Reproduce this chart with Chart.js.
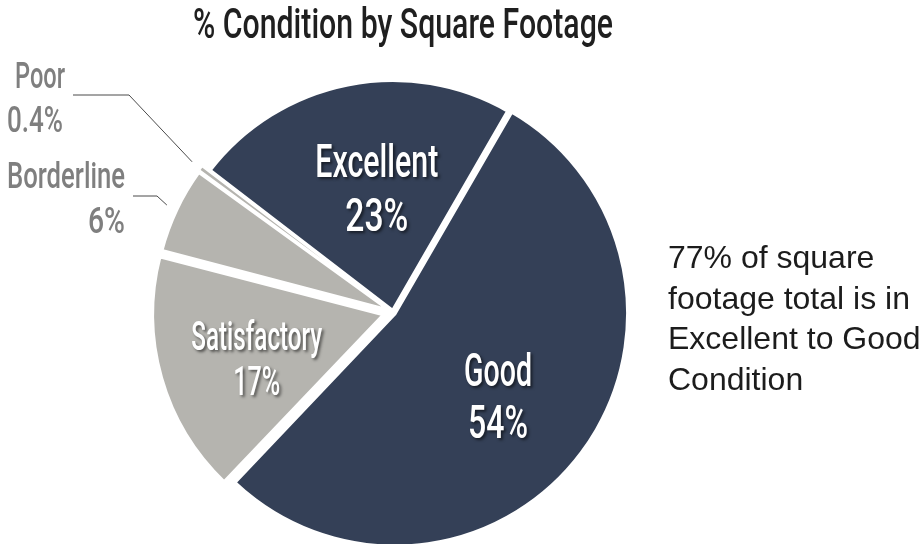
<!DOCTYPE html>
<html>
<head>
<meta charset="utf-8">
<script src="https://cdn.jsdelivr.net/npm/chart.js@4.4.1/dist/chart.umd.min.js"></script>
<style>
  html, body { margin: 0; padding: 0; background: #ffffff; }
  canvas { display: block; }
</style>
</head>
<body>
<canvas id="pie" width="920" height="544"></canvas>
<script>
// ---- data ----
const categories = ['Excellent', 'Good', 'Satisfactory', 'Borderline', 'Poor'];
const shares = [23, 54, 17, 6, 0.4];
const titleText = '% Condition by Square Footage';
const noteLines = ['77% of square', 'footage total is in', 'Excellent to Good', 'Condition'];

// ---- styling ----
const NAVY = '#344057';
const STONE = '#b5b4af';
const FAMILY = '"Liberation Sans", Arial, sans-serif';
const LABEL_FAMILY = 'Roboto, "Liberation Sans", sans-serif';
const LABEL_WEIGHT = '500';

const pct = v => v + '%';

// Draws one line squeezed horizontally so it spans `width` pixels (condensed look).
function squeezed(ctx, text, x, y, size, width, align, weight, family) {
  ctx.font = `${weight} ${size}px ${family || LABEL_FAMILY}`;
  const natural = ctx.measureText(text).width;
  const sx = width / natural;
  ctx.save();
  ctx.translate(x, y);
  ctx.scale(sx, 1);
  ctx.textAlign = align;
  ctx.textBaseline = 'alphabetic';
  ctx.fillText(text, 0, 0);
  ctx.restore();
}

// Same translation ArcElement applies for its offset option.
function arcShift(arc) {
  const o = (arc.options.offset || 0) / 4;
  const fix = 1 - Math.sin(Math.min(Math.PI, arc.circumference || 0));
  return o + o * fix;
}

function arcGeometry(arc) {
  const p = arc.getProps(['x', 'y', 'startAngle', 'endAngle', 'outerRadius', 'circumference'], true);
  const mid = (p.startAngle + p.endAngle) / 2;
  const shift = arcShift({ options: arc.options, circumference: p.circumference });
  return {
    cx: p.x + Math.cos(mid) * shift,
    cy: p.y + Math.sin(mid) * shift,
    mid,
    r: p.outerRadius
  };
}

// in-slice label layout: radial fraction, angular nudge (deg), cap height, line gap, line widths
const innerLayout = {
  0: { frac: 0.54, nudge: 3.9,  size: 47, cap: 34, gap: 54, w: [123, 63] },
  1: { frac: 0.56, nudge: 1.6,  size: 46, cap: 33, gap: 52, w: [68, 60] },
  2: { frac: 0.58, nudge: -3.3, size: 40, cap: 28, gap: 45, w: [131, 47] }
};

// outside labels with elbow leader lines
const outerLayout = {
  4: { lines: [{ x: 40, y: 88, w: 50, align: 'center' }, { x: 35, y: 132, w: 56, align: 'center' }],
       leader: [[73, 95], [129, 95]] },
  3: { lines: [{ x: 125, y: 188, w: 118, align: 'right' }, { x: 125, y: 233, w: 37, align: 'right' }],
       leader: [[133, 196], [157, 196]] }
};

const annotate = {
  id: 'annotate',
  afterDatasetsDraw(chart) {
    const ctx = chart.ctx;
    const arcs = chart.getDatasetMeta(0).data;

    // in-slice labels
    Object.keys(innerLayout).forEach(k => {
      const i = +k, L = innerLayout[k];
      const g = arcGeometry(arcs[i]);
      const a = g.mid + L.nudge * Math.PI / 180;
      const cx = g.cx + Math.cos(a) * g.r * L.frac;
      const cy = g.cy + Math.sin(a) * g.r * L.frac;
      ctx.save();
      ctx.fillStyle = '#ffffff';
      ctx.shadowColor = 'rgba(0,0,0,0.55)';
      ctx.shadowBlur = 3;
      ctx.shadowOffsetX = 2;
      ctx.shadowOffsetY = 2;
      squeezed(ctx, categories[i], cx, cy - L.gap / 2 + L.cap / 2, L.size, L.w[0], 'center', LABEL_WEIGHT);
      squeezed(ctx, pct(shares[i]), cx, cy + L.gap / 2 + L.cap / 2, L.size, L.w[1], 'center', LABEL_WEIGHT);
      ctx.restore();
    });

    // outside labels + leaders
    Object.keys(outerLayout).forEach(k => {
      const i = +k, L = outerLayout[k];
      const g = arcGeometry(arcs[i]);
      const ex = g.cx + Math.cos(g.mid) * (g.r + 11);
      const ey = g.cy + Math.sin(g.mid) * (g.r + 11);
      ctx.save();
      ctx.strokeStyle = '#4a4a4a';
      ctx.lineWidth = 1;
      ctx.beginPath();
      ctx.moveTo(L.leader[0][0], L.leader[0][1]);
      ctx.lineTo(L.leader[1][0], L.leader[1][1]);
      ctx.lineTo(ex, ey);
      ctx.stroke();
      ctx.fillStyle = '#7f7f7f';
      const texts = [categories[i], pct(shares[i])];
      L.lines.forEach((ln, j) => squeezed(ctx, texts[j], ln.x, ln.y, 36, ln.w, ln.align, LABEL_WEIGHT));
      ctx.restore();
    });
  },
  afterDraw(chart) {
    const ctx = chart.ctx;
    ctx.save();
    // heading
    ctx.fillStyle = '#1f1f1f';
    squeezed(ctx, titleText, 403, 38, 43, 420, 'center', LABEL_WEIGHT);
    // side note
    ctx.fillStyle = '#1c1c1c';
    ctx.font = `32px ${FAMILY}`;
    ctx.textAlign = 'left';
    ctx.textBaseline = 'alphabetic';
    noteLines.forEach((t, j) => ctx.fillText(t, 668, 268 + j * 40.5));
    ctx.restore();
  }
};

new Chart(document.getElementById('pie'), {
  type: 'pie',
  data: {
    labels: categories,
    datasets: [{
      data: shares,
      backgroundColor: [NAVY, NAVY, STONE, STONE, STONE],
      borderColor: '#ffffff',
      borderWidth: [4, 4, 4, 3, 1.5],
      offset: [4, 9, 36, 20, 18],
      rotation: -52.5,
      radius: 231
    }]
  },
  options: {
    responsive: false,
    animation: false,
    devicePixelRatio: 1,
    events: [],
    layout: { padding: { left: 0, right: 134, top: 80, bottom: 0 } },
    plugins: {
      legend: { display: false },
      tooltip: { enabled: false },
      title: { display: false }
    }
  },
  plugins: [annotate]
});
</script>
</body>
</html>
